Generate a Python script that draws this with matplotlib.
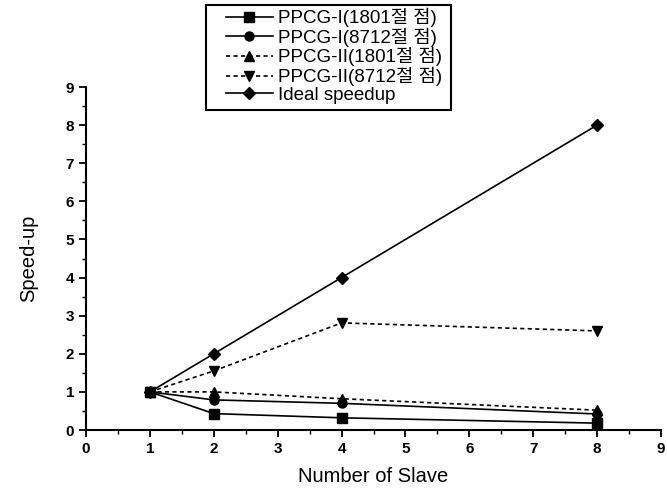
import matplotlib
matplotlib.use("Agg")
import matplotlib.pyplot as plt
from matplotlib.ticker import MultipleLocator
from matplotlib.patches import Rectangle

plt.rcParams['font.family'] = ['Liberation Sans', 'Noto Sans CJK KR', 'DejaVu Sans']

slaves = [1, 2, 4, 8]
ppcg1_1801 = [1.0, 0.43, 0.32, 0.18]
ppcg1_8712 = [1.0, 0.79, 0.70, 0.42]
ppcg2_1801 = [1.0, 1.00, 0.82, 0.52]
ppcg2_8712 = [1.0, 1.55, 2.81, 2.60]
ideal = [1, 2, 4, 8]

labels = ["PPCG-I(1801절 점)", "PPCG-I(8712절 점)", "PPCG-II(1801절 점)",
          "PPCG-II(8712절 점)", "Ideal speedup"]
x_ticks = list(range(0, 10))
y_ticks = list(range(0, 10))

W, H = 667, 491
fig = plt.figure(figsize=(6.67, 4.91), dpi=100)
ax = fig.add_axes([86/W, 1 - 430/H, (661-86)/W, (430-87)/H])

ms = 6.5
lw = 1.2
dash = (0, (2.5, 2))
ax.plot(slaves, ppcg1_1801, color='black', lw=lw, ls='-', marker='s', ms=ms, label=labels[0])
ax.plot(slaves, ppcg1_8712, color='black', lw=lw, ls='-', marker='o', ms=ms, label=labels[1])
ax.plot(slaves, ppcg2_1801, color='black', lw=lw, ls=dash, marker='^', ms=ms, label=labels[2])
ax.plot(slaves, ppcg2_8712, color='black', lw=lw, ls=dash, marker='v', ms=ms, label=labels[3])
ax.plot(slaves, ideal, color='black', lw=lw, ls='-', marker='D', ms=ms-0.5, label=labels[4])

ax.set_xlim(0, 9)
ax.set_ylim(0, 9)
ax.set_xticks(x_ticks)
ax.set_yticks(y_ticks)
ax.xaxis.set_minor_locator(MultipleLocator(0.5))
ax.yaxis.set_minor_locator(MultipleLocator(0.5))
ax.spines['top'].set_visible(False)
ax.spines['right'].set_visible(False)
ax.spines['left'].set_linewidth(1.5)
ax.spines['bottom'].set_linewidth(1.5)
ax.tick_params(which='major', direction='out', length=5, width=1.3, labelsize=11)
ax.tick_params(which='minor', direction='out', length=3, width=1.0)
for t in ax.get_xticklabels() + ax.get_yticklabels():
    t.set_fontweight('bold')

ax.set_xlabel("Number of Slave", fontsize=14.5, labelpad=8)
ax.set_ylabel("Speed-up", fontsize=14.5, labelpad=20)

# legend frame drawn in figure pixels
fig.patches.append(Rectangle((206/W, 1 - 110/H), (451-206)/W, (110-5)/H,
                             transform=fig.transFigure, fill=False,
                             edgecolor='black', linewidth=1.5))
leg = fig.legend(loc='upper left', bbox_to_anchor=(226/W, 1 - 8/H),
                 fontsize=13.5, frameon=False,
                 handlelength=2.5, handletextpad=0.3, borderpad=0.0,
                 borderaxespad=0.0, labelspacing=0.02)

fig.savefig("out.png", dpi=100)
